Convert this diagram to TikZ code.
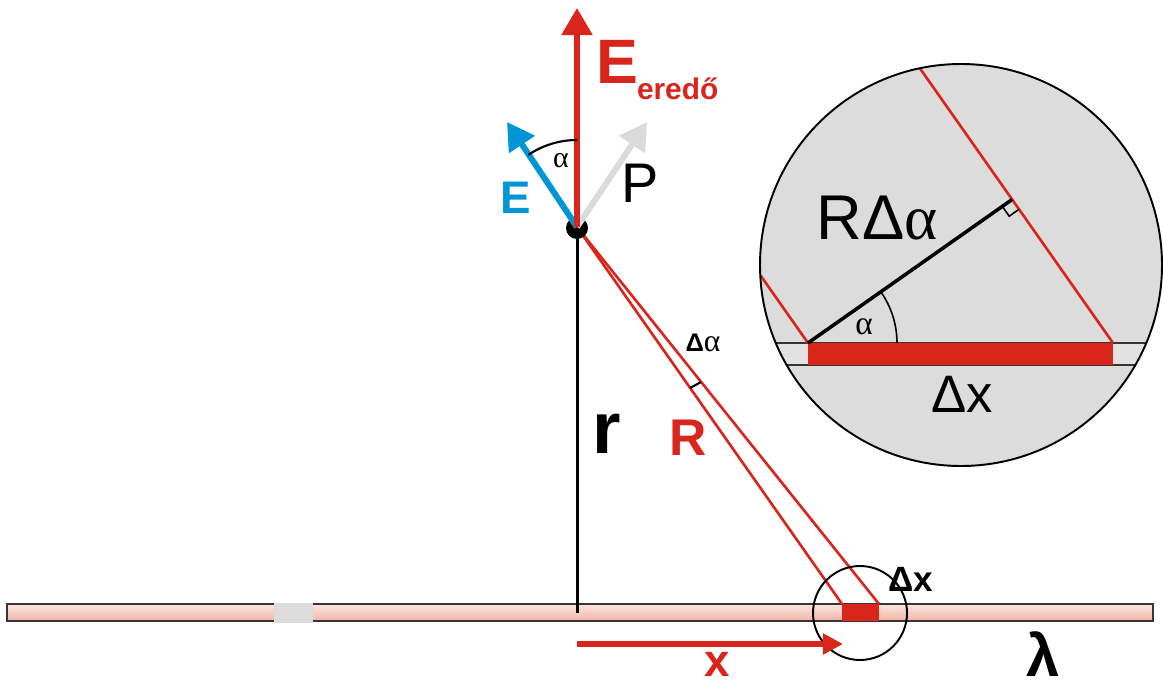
\documentclass[tikz,border=0pt]{standalone}
\usepackage{fontspec}
\setmainfont{Liberation Sans}
\newfontfamily\grserif{Liberation Serif}
\usetikzlibrary{arrows.meta,calc}
\definecolor{myred}{HTML}{DA251D}
\definecolor{myblue}{HTML}{0096D6}
\definecolor{pgray}{HTML}{DADADA}
\definecolor{circgray}{HTML}{DCDCDC}
\definecolor{bandgray}{HTML}{E2E2E2}
\definecolor{rodtop}{HTML}{FCE6E0}
\definecolor{rodbot}{HTML}{F0B4A6}
\definecolor{rodline}{HTML}{3A3535}
\newcommand\myfs[1]{\fontsize{#1}{#1}\selectfont}
\begin{document}
\begin{tikzpicture}[x=0.02cm,y=-0.02cm,
  lbl/.style={inner sep=0pt, outer sep=0pt},
  vec/.style={line width=3.4pt, -{Triangle[length=15.4pt,width=17pt]}},
  redline/.style={myred, line width=1.5pt},
  thinblk/.style={line width=1.1pt}]
\useasboundingbox (0,0) rectangle (1163,686);

% ---------- rod ----------
\shade[top color=rodtop, bottom color=rodbot] (7,604) rectangle (1153,621);
\draw[rodline, line width=1.2pt] (7,604) rectangle (1153,621);
\fill[circgray] (274,602.5) rectangle (313,622.5);

% ---------- geometry ----------
\coordinate (D) at (577,227);
\coordinate (F) at (577,613);
\coordinate (B1) at (842,604);
\coordinate (B2) at (879,604);
\coordinate (B3) at (879,621);
\coordinate (Etip) at (577,8);
\coordinate (Eb) at (507,122);
\coordinate (Pt) at (647,122);
\coordinate (X0) at (577,644);
\coordinate (X1) at (843,644);
\coordinate (SC) at (860,613);

\draw[line width=1.7pt] (D) -- (F);
\fill[myred] (B1) rectangle (B3);
\draw[redline] (D) -- (B1);
\draw[redline] (D) -- (B2);
\draw[line width=1.2pt] ($(D)!0.427!(B1)$) -- ($(D)!0.411!(B2)$);
\draw[thinblk] (SC) circle[radius=47];
\draw[myred, line width=3pt, -{Triangle[length=11.4pt,width=11.4pt]}] (X0) -- (X1);

% dipole
\fill (577,228) circle[radius=11];
\draw[vec, pgray] (D) -- (Pt);
\draw[vec, myblue] (D) -- (Eb);
\draw[vec, myred] (D) -- (Etip);
\draw[line width=1.2pt] (577,140) arc[start angle=-90, end angle=-123.9, radius=87];

% ---------- labels ----------
\node[lbl, text=myred, font=\bfseries\myfs{35.7}] (Elab) at (617,62) {E};
\node[lbl, text=myred, font=\bfseries\myfs{17}, anchor=base west] (ered) at (637,100) {eredő};
\node[lbl, text=myblue, font=\bfseries\myfs{26}] (Eblab) at (516,198) {E};
\node[lbl, font=\myfs{31.8}] (Plab) at (640,183) {P};
\node[lbl, font=\grserif\myfs{17}] (al1) at (561,161) {α};
\node[lbl, font=\bfseries\myfs{14.5}] (dal) at (703,343) {Δ{\grserif\mdseries\myfs{18}α}};
\node[lbl, text=myred, font=\bfseries\myfs{29.4}] (Rlab) at (688,438) {R};
\node[lbl, font=\bfseries\myfs{41.6}] (rlab) at (607,434) {r};
\node[lbl, font=\bfseries\myfs{20}] (dx1) at (911,579) {Δx};
\node[lbl, text=myred, font=\bfseries\myfs{26}, anchor=base] (xlab) at (717,676) {x};
\node[lbl, font=\bfseries\myfs{34}, anchor=base] (lam) at (1043,676) {λ};

% ---------- magnified circle ----------
\coordinate (C) at (961,265);
\coordinate (A) at (808,343);
\coordinate (A2) at (1113,365);
\coordinate (Q) at (1113,343);
\coordinate (Ft) at (1012.1,199.5);
\fill[circgray] (C) circle[radius=201];
\begin{scope}
  \clip (C) circle[radius=201];
  \fill[bandgray] (740,343) rectangle (1180,365);
  \draw[rodline, line width=0.8pt] (740,343) -- (1180,343);
  \draw[rodline, line width=0.8pt] (740,365) -- (1180,365);
  \fill[myred] (A) rectangle (A2);
  \draw[redline] (A) -- ($(A)+(-150,-213.4)$);
  \draw[redline] (Q) -- ($(Q)+(-300,-426.8)$);
\end{scope}
\draw[line width=2pt] (A) -- (Ft);
\draw[line width=0.9pt] (1002.3,206.4) -- (1009.2,216.2) -- (1019.0,209.3);
\draw[line width=0.9pt] (897,343) arc[start angle=0, end angle=-35.1, radius=89];
\draw[thinblk] (C) circle[radius=201];

\node[lbl, font=\myfs{36}] (RDa) at (877,218) {RΔ{\grserif α}};
\node[lbl, font=\myfs{30}] (dx2) at (962,394) {Δx};
\node[lbl, font=\grserif\myfs{19}] (al2) at (864,327) {α};
\end{tikzpicture}
\end{document}
